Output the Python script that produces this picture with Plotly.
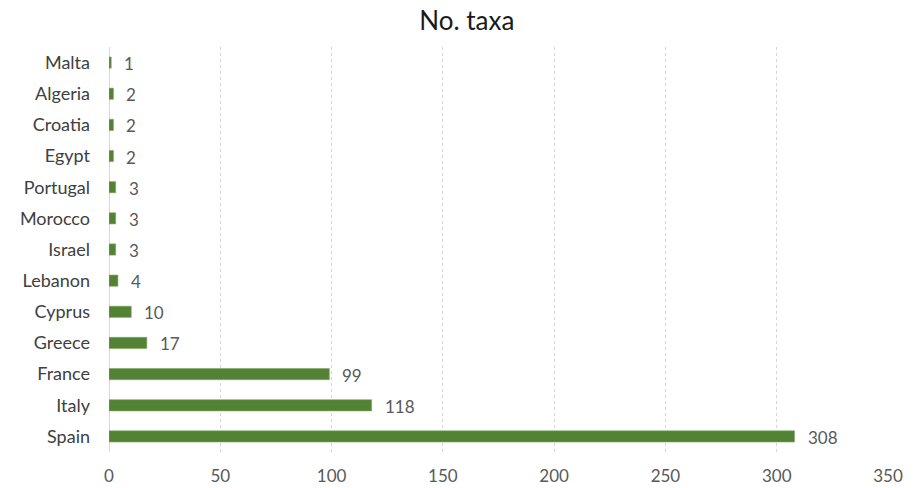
import plotly.graph_objects as go

# Number of taxa recorded per country
countries = ["Malta", "Algeria", "Croatia", "Egypt", "Portugal", "Morocco", "Israel",
             "Lebanon", "Cyprus", "Greece", "France", "Italy", "Spain"]
taxa = [1, 2, 2, 2, 3, 3, 3, 4, 10, 17, 99, 118, 308]
x_ticks = [0, 50, 100, 150, 200, 250, 300, 350]

FONT = "Lato, 'Open Sans', sans-serif"
GREY = "#595959"

fig = go.Figure(
    go.Bar(
        x=taxa,
        y=countries,
        orientation="h",
        marker=dict(color="#548235", line=dict(color="#7fa862", width=0.6)),
        width=0.36,
        hoverinfo="x+y",
    )
)

# Value labels to the right of each bar
for c, v in zip(countries, taxa):
    fig.add_annotation(
        x=v, y=c, text=str(v), showarrow=False,
        xanchor="left", yanchor="middle", xshift=11, yshift=-1,
        font=dict(family=FONT, size=17, color=GREY),
    )

fig.update_layout(
    width=919,
    height=488,
    margin=dict(l=109, r=31, t=47, b=36),
    paper_bgcolor="white",
    plot_bgcolor="white",
    showlegend=False,
    title=dict(
        text="No. taxa",
        x=0.508, xanchor="center",
        y=0.958, yanchor="middle",
        font=dict(family=FONT, size=26, color="#1a1a1a"),
    ),
    xaxis=dict(
        range=[0, 350],
        tickvals=x_ticks,
        ticktext=[str(t) for t in x_ticks],
        showgrid=True,
        gridcolor="#d4d4d4",
        griddash="dot",
        gridwidth=1,
        zeroline=True,
        zerolinecolor="#d9d9d9",
        zerolinewidth=1,
        showline=False,
        ticks="",
        ticklabelstandoff=12,
        tickfont=dict(family=FONT, size=17, color=GREY),
        automargin=False,
        fixedrange=True,
    ),
    yaxis=dict(
        categoryorder="array",
        categoryarray=countries,
        autorange="reversed",
        showgrid=False,
        zeroline=False,
        showline=False,
        ticks="",
        ticklabelstandoff=18,
        tickfont=dict(family=FONT, size=18, color="#404040"),
        automargin=False,
        fixedrange=True,
    ),
)

fig.write_html("out.html")
